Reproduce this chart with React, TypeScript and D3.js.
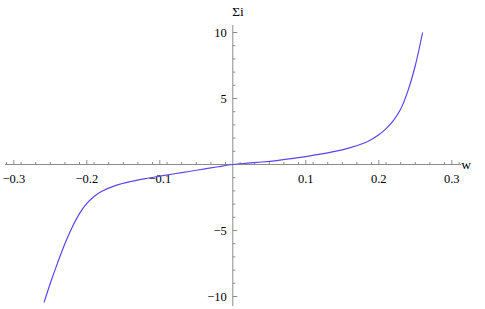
import React from "react";
import * as d3 from "d3";

const W = 485;
const H = 309;

// curve samples
const wValues = [
  -0.2585, -0.25, -0.24, -0.23, -0.22, -0.21, -0.2, -0.19, -0.18, -0.16, -0.14,
  -0.12, -0.1, -0.08, -0.06, -0.04, -0.02, 0, 0.02, 0.04, 0.06, 0.08, 0.1,
  0.12, 0.14, 0.16, 0.18, 0.19, 0.2, 0.21, 0.22, 0.23, 0.24, 0.25, 0.26,
];
const sigmaValues = [
  -10.45, -9.0, -7.45, -6.0, -4.75, -3.72, -2.95, -2.42, -2.05, -1.58, -1.29,
  -1.07, -0.88, -0.7, -0.53, -0.35, -0.17, 0, 0.1, 0.19, 0.3, 0.44, 0.6,
  0.78, 0.99, 1.26, 1.63, 1.9, 2.25, 2.72, 3.32, 4.2, 5.6, 7.5, 10.0,
];

const xMajorTicks = [-0.3, -0.2, -0.1, 0.1, 0.2, 0.3];
const xMinorTicks = d3.range(-31, 32, 2).map((v) => v / 100).filter((v) => Math.abs(v) > 1e-9);
const yMajorTicks = [-10, -5, 5, 10];
const yMinorTicks = d3.range(-10, 11, 1).filter((v) => v !== 0 && v % 5 !== 0);

const fmt = (v: number) => (v < 0 ? "\u2212" + String(Math.abs(v)) : String(v));

export default function App() {
  const x = d3.scaleLinear().domain([-0.3, 0.3]).range([13.8, 451.8]);
  const y = d3.scaleLinear().domain([-10, 10]).range([296.5, 32.5]);
  const x0 = x(0);
  const y0 = y(0);

  const pts: [number, number][] = wValues.map((w, i) => [w, sigmaValues[i]]);
  const line = d3
    .line<[number, number]>()
    .x((d) => x(d[0]))
    .y((d) => y(d[1]))
    .curve(d3.curveCatmullRom.alpha(0.5));

  const font = "'Liberation Serif', 'Times New Roman', serif";

  return (
    <svg
      width={W}
      height={H}
      style={{ position: "absolute", left: 0, top: 0, background: "#fff" }}
    >
      {/* x axis */}
      <line x1={5} x2={461} y1={y0} y2={y0} stroke="#8c8c8c" strokeWidth={1} />
      {xMinorTicks.map((t) => (
        <line key={"xm" + t} x1={x(t)} x2={x(t)} y1={y0} y2={y0 - 2.5} stroke="#8c8c8c" />
      ))}
      {xMajorTicks.map((t) => (
        <g key={"xM" + t}>
          <line x1={x(t)} x2={x(t)} y1={y0} y2={y0 - 4.5} stroke="#8c8c8c" />
          <text x={x(t)} y={y0 + 18} textAnchor="middle" fontFamily={font} fontSize={12.5} fill="#000">
            {fmt(t)}
          </text>
        </g>
      ))}
      <text x={466} y={y0 + 4} textAnchor="middle" fontFamily={font} fontSize={13.5} fill="#000">
        w
      </text>

      {/* y axis */}
      <line x1={x0} x2={x0} y1={25} y2={306} stroke="#8c8c8c" strokeWidth={1} />
      {yMinorTicks.map((t) => (
        <line key={"ym" + t} x1={x0} x2={x0 + 2.5} y1={y(t)} y2={y(t)} stroke="#8c8c8c" />
      ))}
      {yMajorTicks.map((t) => (
        <g key={"yM" + t}>
          <line x1={x0} x2={x0 + 4.5} y1={y(t)} y2={y(t)} stroke="#8c8c8c" />
          <text x={x0 - 6} y={y(t) + 4.5} textAnchor="end" fontFamily={font} fontSize={12.5} fill="#000">
            {fmt(t)}
          </text>
        </g>
      ))}
      <text x={238} y={16} textAnchor="middle" fontFamily={font} fontSize={13.5} fill="#000">
        Σi
      </text>

      {/* curve */}
      <path d={line(pts) ?? ""} fill="none" stroke="#5a46f0" strokeWidth={1.2} />
    </svg>
  );
}
